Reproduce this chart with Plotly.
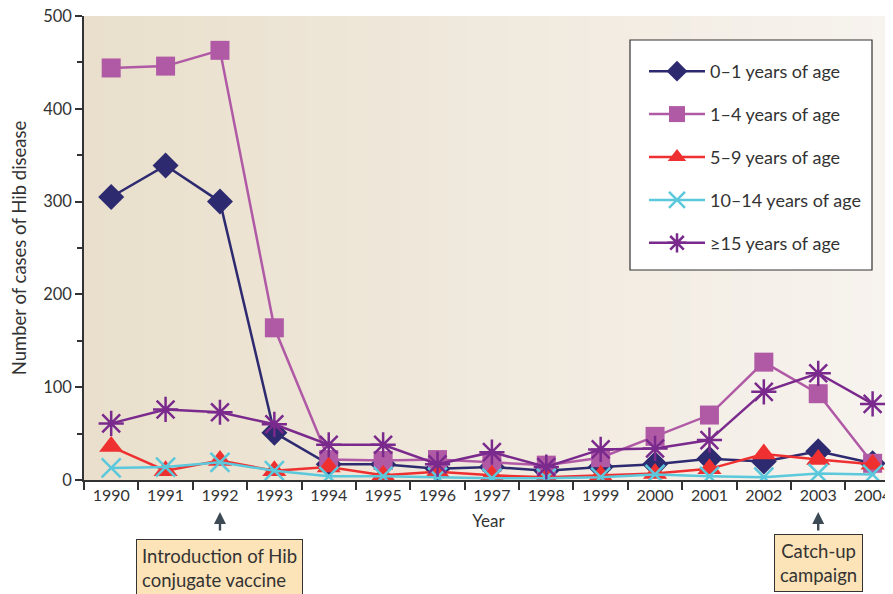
import plotly.graph_objects as go

years = list(range(1990, 2005))
age_0_1 = [305, 339, 300, 51, 17, 17, 12, 14, 10, 14, 17, 23, 20, 31, 18]
age_1_4 = [444, 446, 463, 164, 22, 21, 22, 19, 16, 24, 47, 70, 127, 93, 18]
age_5_9 = [36, 10, 21, 10, 14, 5, 9, 5, 3, 5, 7, 12, 28, 22, 17]
age_10_14 = [13, 14, 19, 10, 4, 4, 3, 2, 2, 3, 6, 4, 3, 7, 6]
age_15_plus = [61, 76, 73, 60, 38, 38, 17, 30, 14, 33, 34, 43, 95, 115, 82]
series_names = ["0–1 years of age", "1–4 years of age", "5–9 years of age",
                "10–14 years of age", "≥15 years of age"]
y_ticks = [0, 100, 200, 300, 400, 500]

FONT = "Lato"
OFF = 8  # page body margin offset
W, H = 893 - OFF, 594 - OFF
L, R, T = 84 - OFF, 0, 16 - OFF
B = H - (480 - OFF)
PW, PH = W - L - R, H - T - B


def px_x(s):
    return (s - OFF - L) / PW


def px_y(s):
    return (H - B - (s - OFF)) / PH


fig = go.Figure()

styles = [
    dict(color="#2d2a70", symbol="diamond", size=20, lw=0),
    dict(color="#b05aa6", symbol="square", size=19, lw=0),
    dict(color="#ee3030", symbol="triangle-up", size=21, lw=0),
    dict(color="#5bc8dc", symbol="x-thin", size=19, lw=2.5),
    dict(color="#7a2a8c", symbol="asterisk", size=21, lw=2.5),
]
data = [age_0_1, age_1_4, age_5_9, age_10_14, age_15_plus]
for i, (name, vals, st) in enumerate(zip(series_names, data, styles)):
    fig.add_trace(go.Scatter(
        x=years, y=vals, name=name, mode="lines+markers",
        legendgroup=f"g{i}",
        line=dict(color=st["color"], width=2.5),
        marker=dict(symbol=st["symbol"], size=st["size"], color=st["color"],
                    line=dict(color=st["color"], width=st["lw"])),
    ))

# background gradient strips in plot area
n = 40
c0 = (233, 223, 204)
c1 = (247, 243, 238)
for k in range(n):
    t = k / (n - 1)
    c = tuple(int(round(c0[j] + (c1[j] - c0[j]) * t)) for j in range(3))
    fig.add_shape(type="rect", xref="paper", yref="paper",
                  x0=k / n, x1=(k + 1) / n + 0.002, y0=0, y1=1,
                  fillcolor=f"rgb{c}", line=dict(width=0), layer="below")

# legend box
fig.add_shape(type="rect", xref="paper", yref="paper",
              x0=px_x(630), x1=px_x(872), y0=px_y(270), y1=px_y(40),
              fillcolor="white", line=dict(color="#333", width=1.2), layer="below")

# arrows
for xv in (1992, 2003):
    fig.add_annotation(x=xv, y=px_y(512), xref="x", yref="paper", text="",
                       showarrow=True, arrowhead=2, arrowsize=1, arrowwidth=2.4,
                       arrowcolor="#3b4a55", ax=0, ay=20)

fig.add_annotation(x=1992, y=px_y(539), xref="x", yref="paper",
                   text="Introduction of Hib<br>conjugate vaccine",
                   showarrow=False, yanchor="top", xanchor="center", align="left",
                   font=dict(family=FONT, size=18.5, color="#333"),
                   bgcolor="#fde3b8", bordercolor="#333", borderwidth=1, borderpad=5)
fig.add_annotation(x=2003, y=px_y(534), xref="x", yref="paper",
                   text="Catch-up<br>campaign",
                   showarrow=False, yanchor="top", xanchor="center", align="center",
                   font=dict(family=FONT, size=18.5, color="#333"),
                   bgcolor="#fde3b8", bordercolor="#333", borderwidth=1, borderpad=5)

fig.update_layout(
    width=W, height=H,
    margin=dict(l=L, r=R, t=T, b=B, autoexpand=False),
    paper_bgcolor="white", plot_bgcolor="#efe7da",
    font=dict(family=FONT, size=16, color="#333"),
    showlegend=True,
    legend=dict(x=px_x(644), y=px_y(53), xanchor="left", yanchor="top",
                bgcolor="rgba(0,0,0,0)", borderwidth=0,
                font=dict(family=FONT, size=18, color="#333"),
                tracegroupgap=16.5, itemwidth=56),
    xaxis=dict(range=[1989.5, 1990 + (893 - 111) / 54.4], tickvals=years,
               ticktext=[str(y) for y in years], ticks="", showgrid=False,
               zeroline=False, showline=True, linecolor="#333", linewidth=1.5,
               automargin=False, ticklabeloverflow="allow",
               minor=dict(ticks="outside", tick0=1989.5, dtick=1, ticklen=8,
                          tickcolor="#333", tickwidth=1.5, showgrid=False),
               title=dict(text="Year", font=dict(family=FONT, size=17), standoff=12),
               tickfont=dict(family=FONT, size=16, color="#333")),
    yaxis=dict(range=[0, 500], tickvals=y_ticks, ticks="outside", ticklen=7,
               tickcolor="#333", tickwidth=1.5, showgrid=False, zeroline=False,
               showline=True, linecolor="#333", linewidth=1.5, automargin=False,
               ticklabeloverflow="allow",
               minor=dict(ticks="outside", dtick=50, ticklen=5, tickcolor="#333",
                          tickwidth=1.5, showgrid=False),
               title=dict(text="Number of cases of Hib disease",
                          font=dict(family=FONT, size=18.5), standoff=14),
               tickfont=dict(family=FONT, size=16.5, color="#333")),
)

fig.write_html("out.html", default_width=f"{W}px", default_height=f"{H}px")
